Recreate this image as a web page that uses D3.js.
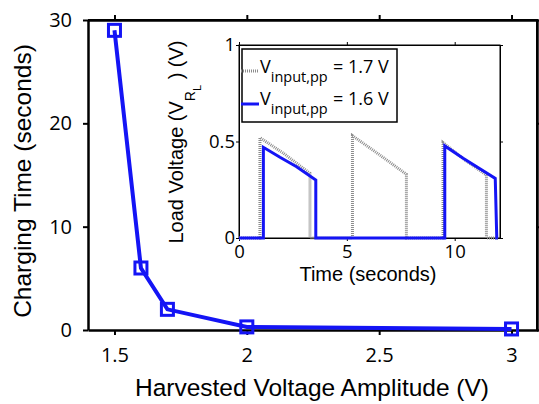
<!DOCTYPE html>
<html><head><meta charset="utf-8">
<script src="https://cdn.jsdelivr.net/npm/d3@7/dist/d3.min.js"></script>
<style>body{margin:0;background:#fff}svg{display:block}</style>
</head><body>
<svg id="c" width="539" height="404"></svg>
<script>
// Main chart data
const harvestedV = [1.5, 1.6, 1.7, 2, 3];
const chargingTime = [29, 6, 2, 0.3, 0.1];
const mainXTicks = [1.5, 2, 2.5, 3];
const mainYTicks = [0, 10, 20, 30];
// Inset data (time in seconds, load voltage in V)
const time17 = [0, 0.97, 0.97, 2.05, 3.29, 3.29, 5.26, 5.26, 6.53, 7.76, 7.76, 9.46, 9.46, 10.4, 11.47, 11.47, 12.0];
const volt17 = [0, 0, 0.52, 0.44, 0.335, 0, 0, 0.53, 0.43, 0.33, 0, 0, 0.494, 0.41, 0.326, 0, 0];
const time16 = [0, 1.13, 1.13, 1.9, 2.67, 3.56, 3.56, 9.54, 9.54, 10.39, 11.88, 11.95, 12.0];
const volt16 = [0, 0, 0.47, 0.418, 0.369, 0.30, 0, 0, 0.477, 0.413, 0.309, 0, 0];
const insetXTicks = [0, 5, 10];
const insetYTicks = [0, 0.5, 1];
const legendLabels = ["= 1.7 V", "= 1.6 V"];

const svg = d3.select("#c");
const blue = "#1414f5";
const grey = "#8c8c8c";
const mf = "'Open Sans', 'Noto Sans', sans-serif";
const af = "'Liberation Sans', Arial, sans-serif";

// main scales
const x = d3.scaleLinear().domain([1.4, 3.1]).range([88, 538]);
const y = d3.scaleLinear().domain([0, 30]).range([330, 20]);

const g = svg.append("g");
g.append("line").attr("x1", 88).attr("x2", 538).attr("y1", 20).attr("y2", 20).attr("stroke", "#000").attr("stroke-width", 2);
g.append("line").attr("x1", 537).attr("x2", 537).attr("y1", 20).attr("y2", 330).attr("stroke", "#000").attr("stroke-width", 2);

const xAx = g.append("g").attr("transform", "translate(0,330)")
  .call(d3.axisBottom(x).tickValues(mainXTicks).tickFormat(d3.format("")).tickSizeInner(5).tickSizeOuter(0).tickPadding(13));
const xTop = g.append("g").attr("transform", "translate(0,20)")
  .call(d3.axisTop(x).tickValues(mainXTicks).tickFormat("").tickSizeInner(5).tickSizeOuter(0));
const yAx = g.append("g").attr("transform", "translate(88,0)")
  .call(d3.axisLeft(y).tickValues(mainYTicks).tickSizeInner(5).tickSizeOuter(0).tickPadding(11));
const yR = g.append("g").attr("transform", "translate(537,0)")
  .call(d3.axisRight(y).tickValues(mainYTicks).tickFormat("").tickSizeInner(5).tickSizeOuter(0));
[xAx, xTop, yAx, yR].forEach(a => {
  a.select(".domain").attr("stroke-width", 2.5);
  a.selectAll(".tick line").attr("stroke-width", 2);
  a.selectAll("text").attr("font-family", mf).attr("font-size", 20).attr("fill", "#000");
});

g.append("text").attr("x", 312).attr("y", 396).attr("text-anchor", "middle")
  .attr("font-family", af).attr("font-size", 24.5).text("Harvested Voltage Amplitude (V)");
g.append("text").attr("transform", "translate(31,181) rotate(-90)").attr("text-anchor", "middle")
  .attr("font-family", af).attr("font-size", 24.5).text("Charging Time (seconds)");

const pts = harvestedV.map((v, i) => [v, chargingTime[i]]);
g.append("path").datum(pts).attr("fill", "none").attr("stroke", blue).attr("stroke-width", 4)
  .attr("d", d3.line().x(d => x(d[0])).y(d => y(d[1])));
g.selectAll("rect.mk").data(pts).enter().append("rect").attr("class", "mk")
  .attr("x", d => x(d[0]) - 6).attr("y", d => y(d[1]) - 6).attr("width", 12).attr("height", 12)
  .attr("fill", "none").attr("stroke", blue).attr("stroke-width", 3);

// inset
const xi = d3.scaleLinear().domain([0, 12.1]).range([239, 500]);
const yi = d3.scaleLinear().domain([0, 1]).range([238, 45]);
const gi = svg.append("g");
gi.append("rect").attr("x", 239).attr("y", 45).attr("width", 261).attr("height", 193).attr("fill", "#fff").attr("stroke", "#000").attr("stroke-width", 1);
const ixa = gi.append("g").attr("transform", "translate(0,238)")
  .call(d3.axisBottom(xi).tickValues(insetXTicks).tickSizeInner(3).tickSizeOuter(0).tickPadding(4));
const ixt = gi.append("g").attr("transform", "translate(0,45)")
  .call(d3.axisTop(xi).tickValues(insetXTicks).tickFormat("").tickSizeInner(3).tickSizeOuter(0));
const iya = gi.append("g").attr("transform", "translate(239,0)")
  .call(d3.axisLeft(yi).tickValues(insetYTicks).tickFormat(d3.format("")).tickSizeInner(3).tickSizeOuter(0).tickPadding(1));
const iyr = gi.append("g").attr("transform", "translate(500,0)")
  .call(d3.axisRight(yi).tickValues(insetYTicks).tickFormat("").tickSizeInner(3).tickSizeOuter(0));
[ixa, ixt, iya, iyr].forEach(a => {
  a.selectAll("text").attr("font-family", mf).attr("font-size", 18.5).attr("fill", "#000");
});

const ln = d3.line().x(d => xi(d[0])).y(d => yi(d[1]));
gi.append("path").datum(time17.map((t, i) => [t, volt17[i]])).attr("fill", "none")
  .attr("stroke", grey).attr("stroke-width", 3).attr("stroke-dasharray", "1,1").attr("d", ln);
gi.append("path").datum(time16.map((t, i) => [t, volt16[i]])).attr("fill", "none")
  .attr("stroke", blue).attr("stroke-width", 3).attr("d", ln);

gi.append("text").attr("x", 368).attr("y", 281).attr("text-anchor", "middle")
  .attr("font-family", af).attr("font-size", 20).text("Time (seconds)");
const yl = gi.append("text").attr("transform", "translate(183,142) rotate(-90)").attr("text-anchor", "middle")
  .attr("font-family", af).attr("font-size", 20);
yl.append("tspan").text("Load Voltage (V");
yl.append("tspan").attr("dy", 12).attr("font-size", 14).text("R");
yl.append("tspan").attr("dy", 6).attr("font-size", 11).text("L");
yl.append("tspan").attr("dy", -18).text(" ) (V)");

// legend
gi.append("rect").attr("x", 242).attr("y", 49).attr("width", 155).attr("height", 73)
  .attr("fill", "#fff").attr("stroke", "#000").attr("stroke-width", 1.5);
const legY = [71, 104];
const legStroke = [grey, blue];
const legDash = ["1,1", null];
legendLabels.forEach((lab, i) => {
  const ly = legY[i];
  gi.append("line").attr("x1", 241).attr("x2", 259).attr("y1", ly).attr("y2", ly)
    .attr("stroke", legStroke[i]).attr("stroke-width", 3).attr("stroke-dasharray", legDash[i]);
  const bl = i === 0 ? 73 : 105;
  const t = gi.append("text").attr("x", 260).attr("y", bl).attr("font-family", mf).attr("font-size", 18);
  t.append("tspan").text("V");
  t.append("tspan").attr("dy", 9).attr("font-size", 14.5).text("input,pp");
  gi.append("text").attr("x", 333).attr("y", bl).attr("font-family", mf).attr("font-size", 18).text(lab);
});
</script>
</body></html>
